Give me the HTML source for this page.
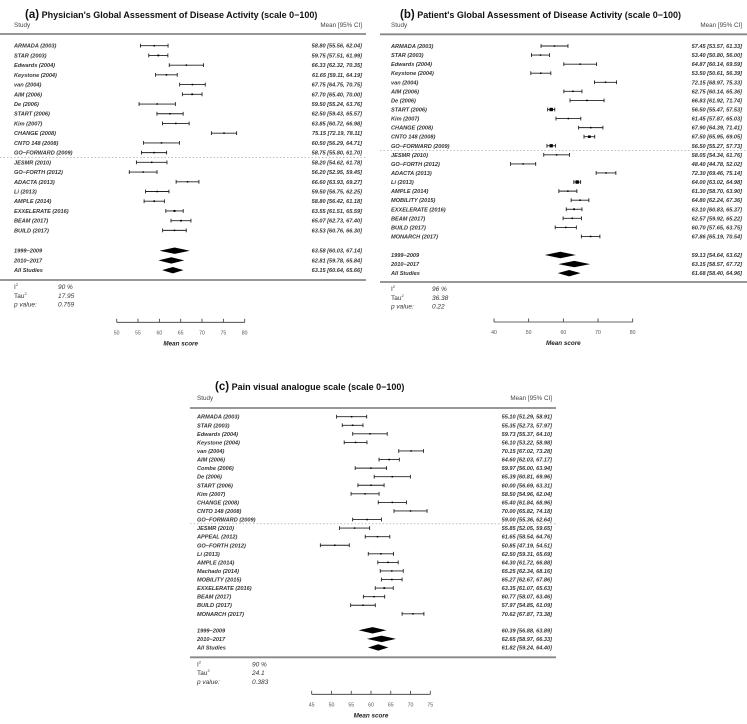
<!DOCTYPE html>
<html><head><meta charset="utf-8">
<style>
html,body{margin:0;padding:0;background:#fff;}
svg{display:block;font-family:"Liberation Sans",sans-serif;}
</style></head>
<body>
<svg id="chart" width="747" height="724" viewBox="0 0 747 724" xmlns="http://www.w3.org/2000/svg"></svg>
<script>
// ---- Panel A data ----
const aStudies = ["ARMADA (2003)","STAR (2003)","Edwards (2004)","Keystone (2004)","van (2004)","AIM (2006)","De (2006)","START (2006)","Kim (2007)","CHANGE (2008)","CNTO 148 (2008)","GO\u2212FORWARD (2009)","JESMR (2010)","GO\u2212FORTH (2012)","ADACTA (2013)","Li (2013)","AMPLE (2014)","EXXELERATE (2016)","BEAM (2017)","BUILD (2017)"];
const aMean = [58.80,59.75,66.33,61.65,67.75,67.70,59.50,62.50,63.85,75.15,60.50,58.75,58.20,56.20,66.60,59.50,58.80,63.55,65.07,63.53];
const aLow  = [55.56,57.51,62.32,59.11,64.75,65.40,55.24,59.43,60.72,72.19,56.29,55.80,54.62,52.95,63.93,56.75,56.42,61.51,62.73,60.76];
const aHigh = [62.04,61.99,70.35,64.19,70.75,70.00,63.76,65.57,66.98,78.11,64.71,61.70,61.78,59.45,69.27,62.25,61.18,65.59,67.40,66.30];
const aSumNames = ["1999\u22122009","2010\u22122017","All Studies"];
const aSumMean = [63.58,62.81,63.15];
const aSumLow  = [60.03,59.78,60.64];
const aSumHigh = [67.14,65.84,65.66];
const aTicks = [50,55,60,65,70,75,80];
const aStats = ["90 %","17.95","0.759"];

// ---- Panel B data ----
const bStudies = ["ARMADA (2003)","STAR (2003)","Edwards (2004)","Keystone (2004)","van (2004)","AIM (2006)","De (2006)","START (2006)","Kim (2007)","CHANGE (2008)","CNTO 148 (2008)","GO\u2212FORWARD (2009)","JESMR (2010)","GO\u2212FORTH (2012)","ADACTA (2013)","Li (2013)","AMPLE (2014)","MOBILITY (2015)","EXXELERATE (2016)","BEAM (2017)","BUILD (2017)","MONARCH (2017)"];
const bMean = [57.45,53.40,64.87,53.50,72.15,62.75,66.83,56.50,61.45,67.90,67.50,56.50,58.05,48.40,72.30,64.00,61.30,64.80,63.10,62.57,60.70,67.86];
const bLow  = [53.57,50.80,60.14,50.61,68.97,60.14,61.92,55.47,57.87,64.39,65.95,55.27,54.34,44.78,69.46,63.02,58.70,62.24,60.83,59.92,57.65,65.19];
const bHigh = [61.33,56.00,69.59,56.39,75.33,65.36,71.74,57.53,65.03,71.41,69.05,57.73,61.76,52.02,75.14,64.98,63.90,67.36,65.37,65.22,63.75,70.54];
const bSumNames = ["1999\u22122009","2010\u22122017","All Studies"];
const bSumMean = [59.13,63.15,61.68];
const bSumLow  = [54.64,58.57,58.40];
const bSumHigh = [63.62,67.72,64.96];
const bTicks = [40,50,60,70,80];
const bStats = ["96 %","36.38","0.22"];

// ---- Panel C data ----
const cStudies = ["ARMADA (2003)","STAR (2003)","Edwards (2004)","Keystone (2004)","van (2004)","AIM (2006)","Combe (2006)","De (2006)","START (2006)","Kim (2007)","CHANGE (2008)","CNTO 148 (2008)","GO\u2212FORWARD (2009)","JESMR (2010)","APPEAL (2012)","GO\u2212FORTH (2012)","Li (2013)","AMPLE (2014)","Machado (2014)","MOBILITY (2015)","EXXELERATE (2016)","BEAM (2017)","BUILD (2017)","MONARCH (2017)"];
const cMean = [55.10,55.35,59.73,56.10,70.15,64.60,59.97,65.39,60.00,58.50,65.40,70.00,59.00,55.85,61.65,50.85,62.50,64.30,65.25,65.27,63.35,60.77,57.97,70.62];
const cLow  = [51.29,52.73,55.37,53.22,67.02,62.03,56.00,60.81,56.69,54.96,61.84,65.82,55.36,52.05,58.54,47.19,59.31,61.72,62.34,62.67,61.07,58.07,54.85,67.87];
const cHigh = [58.91,57.97,64.10,58.98,73.28,67.17,63.94,69.96,63.31,62.04,68.96,74.18,62.64,59.65,64.76,54.51,65.69,66.88,68.16,67.86,65.63,63.46,61.09,73.38];
const cSumNames = ["1999\u22122009","2010\u22122017","All Studies"];
const cSumMean = [60.39,62.65,61.82];
const cSumLow  = [56.88,58.97,59.24];
const cSumHigh = [63.89,66.33,64.40];
const cTicks = [45,50,55,60,65,70,75];
const cStats = ["90 %","24.1","0.383"];

const NS = "http://www.w3.org/2000/svg";
const svg = document.getElementById("chart");
function mk(tag, attrs, parent, text){
  const e = document.createElementNS(NS, tag);
  for (const k in attrs) e.setAttribute(k, attrs[k]);
  if (text !== undefined) e.textContent = text;
  (parent || svg).appendChild(e);
  return e;
}
const f2 = v => v.toFixed(2);

function panel(cfg){
  const g = mk("g", {});
  
  
  const x = v => cfg.x0 + (v - cfg.t0) * (cfg.x1 - cfg.x0) / (cfg.t1 - cfg.t0);
  const row = i => cfg.rowY + i * cfg.rowH;
  const t = mk("text", {x: cfg.titleX, y: cfg.titleY, "font-size": 9, "font-weight": "bold", fill: "#111"}, g);
  
  
  mk("tspan", {"font-size": 11.5}, t, cfg.letter);
  mk("tspan", {}, t, " " + cfg.title);
  const h1 = mk("text", {x: cfg.lx, y: cfg.hdrY, "font-size": 6.3, fill: "#444"}, g, "Study");
  
  
  const h2 = mk("text", {x: cfg.rx, y: cfg.hdrY, "font-size": 6.3, fill: "#444", "text-anchor": "end"}, g, "Mean [95% CI]");
  
  
  const hl = mk("line", {x1: cfg.lineL, x2: cfg.lineR, y1: cfg.hdrLine, y2: cfg.hdrLine, stroke: "#888", "stroke-width": 1.8}, g);
  
  
  const n = cfg.studies.length;
  for (let i = 0; i < n; i++){
    const y = row(i);
    const rg = mk("g", {}, g);
    
    
    mk("text", {x: cfg.lx, y: y + 2, "font-size": 5.6, "font-weight": "bold", "font-style": "italic", fill: "#333"}, rg, cfg.studies[i]);
    mk("text", {x: cfg.rx, y: y + 2, "font-size": 5.6, "font-weight": "bold", "font-style": "italic", fill: "#333", "text-anchor": "end"}, rg, f2(cfg.mean[i]) + " [" + f2(cfg.low[i]) + ", " + f2(cfg.high[i]) + "]");
    const xl = x(cfg.low[i]), xh = x(cfg.high[i]);
    const ci = mk("line", {x1: xl, x2: xh, y1: y, y2: y, stroke: "#222", "stroke-width": 0.9}, rg);
    
    
    mk("line", {x1: xl, x2: xl, y1: y - 1.9, y2: y + 1.9, stroke: "#222", "stroke-width": 0.9}, rg);
    mk("line", {x1: xh, x2: xh, y1: y - 1.9, y2: y + 1.9, stroke: "#222", "stroke-width": 0.9}, rg);
    const s = Math.max(1.5, Math.min(3.4, 8 / (cfg.high[i] - cfg.low[i])));
    const b = mk("rect", {x: x(cfg.mean[i]) - s / 2, y: y - s / 2, width: s, height: s, fill: "#000"}, rg);
    
    
  }
  const dy = (row(cfg.split) + row(cfg.split + 1)) / 2;
  const dl = mk("line", {x1: cfg.lineL, x2: cfg.lineR, y1: dy, y2: dy, stroke: "#999", "stroke-width": 0.6, "stroke-dasharray": "1.5,2"}, g);
  
  
  for (let j = 0; j < 3; j++){
    const y = cfg.sumY + j * cfg.rowH;
    const sg = mk("g", {}, g);
    
    
    mk("text", {x: cfg.lx, y: y + 2, "font-size": 5.6, "font-weight": "bold", "font-style": "italic", fill: "#333"}, sg, cfg.sumNames[j]);
    mk("text", {x: cfg.rx, y: y + 2, "font-size": 5.6, "font-weight": "bold", "font-style": "italic", fill: "#333", "text-anchor": "end"}, sg, f2(cfg.sumMean[j]) + " [" + f2(cfg.sumLow[j]) + ", " + f2(cfg.sumHigh[j]) + "]");
    const d = mk("polygon", {points: x(cfg.sumLow[j]) + "," + y + " " + x(cfg.sumMean[j]) + "," + (y - 3.2) + " " + x(cfg.sumHigh[j]) + "," + y + " " + x(cfg.sumMean[j]) + "," + (y + 3.2), fill: "#000"}, sg);
    
    
  }
  const bl = mk("line", {x1: cfg.lineL, x2: cfg.lineR, y1: cfg.botLine, y2: cfg.botLine, stroke: "#888", "stroke-width": 1.8}, g);
  
  
  const labels = [["I", "2"], ["Tau", "2"], ["p value:", ""]];
  for (let k = 0; k < 3; k++){
    const y = cfg.botLine + 9 + k * 8.8;
    const lt = mk("text", {x: cfg.lx, y: y, "font-size": 6.5, fill: "#333", "font-style": k === 2 ? "italic" : "normal"}, g);
    
    
    mk("tspan", {}, lt, labels[k][0]);
    if (labels[k][1]) mk("tspan", {dy: -3, "font-size": 4}, lt, labels[k][1]);
    const vt = mk("text", {x: cfg.statX, y: y, "font-size": 6.5, "font-style": "italic", fill: "#333"}, g, cfg.stats[k]);
    
    
  }
  const ax = mk("g", {}, g);
  
  
  const tf = cfg.ticks[0], tl = cfg.ticks[cfg.ticks.length - 1];
  mk("line", {x1: x(tf), x2: x(tl), y1: cfg.axY, y2: cfg.axY, stroke: "#333", "stroke-width": 0.8}, ax);
  cfg.ticks.forEach(v => {
    mk("line", {x1: x(v), x2: x(v), y1: cfg.axY, y2: cfg.axY - 3.5, stroke: "#333", "stroke-width": 0.8}, ax);
    const tt = mk("text", {x: x(v), y: cfg.axY + 12, "font-size": 5.2, fill: "#555", "text-anchor": "middle"}, ax, String(v));
    
    
  });
  const at = mk("text", {x: (x(tf) + x(tl)) / 2, y: cfg.axY + 23, "font-size": 6.3, "font-weight": "bold", "font-style": "italic", fill: "#222", "text-anchor": "middle"}, ax, "Mean score");
  
  
}

panel({id: "panel-a", letter: "(a)", title: "Physician's Global Assessment of Disease Activity (scale 0\u2212100)",
  titleX: 25, titleY: 18, lx: 14, rx: 362, hdrY: 27, hdrLine: 34, lineL: 0, lineR: 366,
  x0: 116.7, x1: 244.7, t0: 50, t1: 80, rowY: 45.7, rowH: 9.72, split: 11, sumY: 250.7, botLine: 280,
  statX: 58, axY: 322.3, studies: aStudies, mean: aMean, low: aLow, high: aHigh,
  sumNames: aSumNames, sumMean: aSumMean, sumLow: aSumLow, sumHigh: aSumHigh, ticks: aTicks, stats: aStats});

panel({id: "panel-b", letter: "(b)", title: "Patient's Global Assessment of Disease Activity (scale 0\u2212100)",
  titleX: 400, titleY: 18, lx: 391, rx: 742, hdrY: 27, hdrLine: 34.3, lineL: 380, lineR: 747,
  x0: 494, x1: 632.7, t0: 40, t1: 80, rowY: 46, rowH: 9.07, split: 11, sumY: 255, botLine: 282,
  statX: 432, axY: 322, studies: bStudies, mean: bMean, low: bLow, high: bHigh,
  sumNames: bSumNames, sumMean: bSumMean, sumLow: bSumLow, sumHigh: bSumHigh, ticks: bTicks, stats: bStats});

panel({id: "panel-c", letter: "(c)", title: "Pain visual analogue scale (scale 0\u2212100)",
  titleX: 215, titleY: 390, lx: 197, rx: 552, hdrY: 400, hdrLine: 408, lineL: 190, lineR: 556,
  x0: 311.7, x1: 430.3, t0: 45, t1: 75, rowY: 416.7, rowH: 8.57, split: 12, sumY: 630.3, botLine: 657.3,
  statX: 252, axY: 694.3, studies: cStudies, mean: cMean, low: cLow, high: cHigh,
  sumNames: cSumNames, sumMean: cSumMean, sumLow: cSumLow, sumHigh: cSumHigh, ticks: cTicks, stats: cStats});
</script>
</body></html>
